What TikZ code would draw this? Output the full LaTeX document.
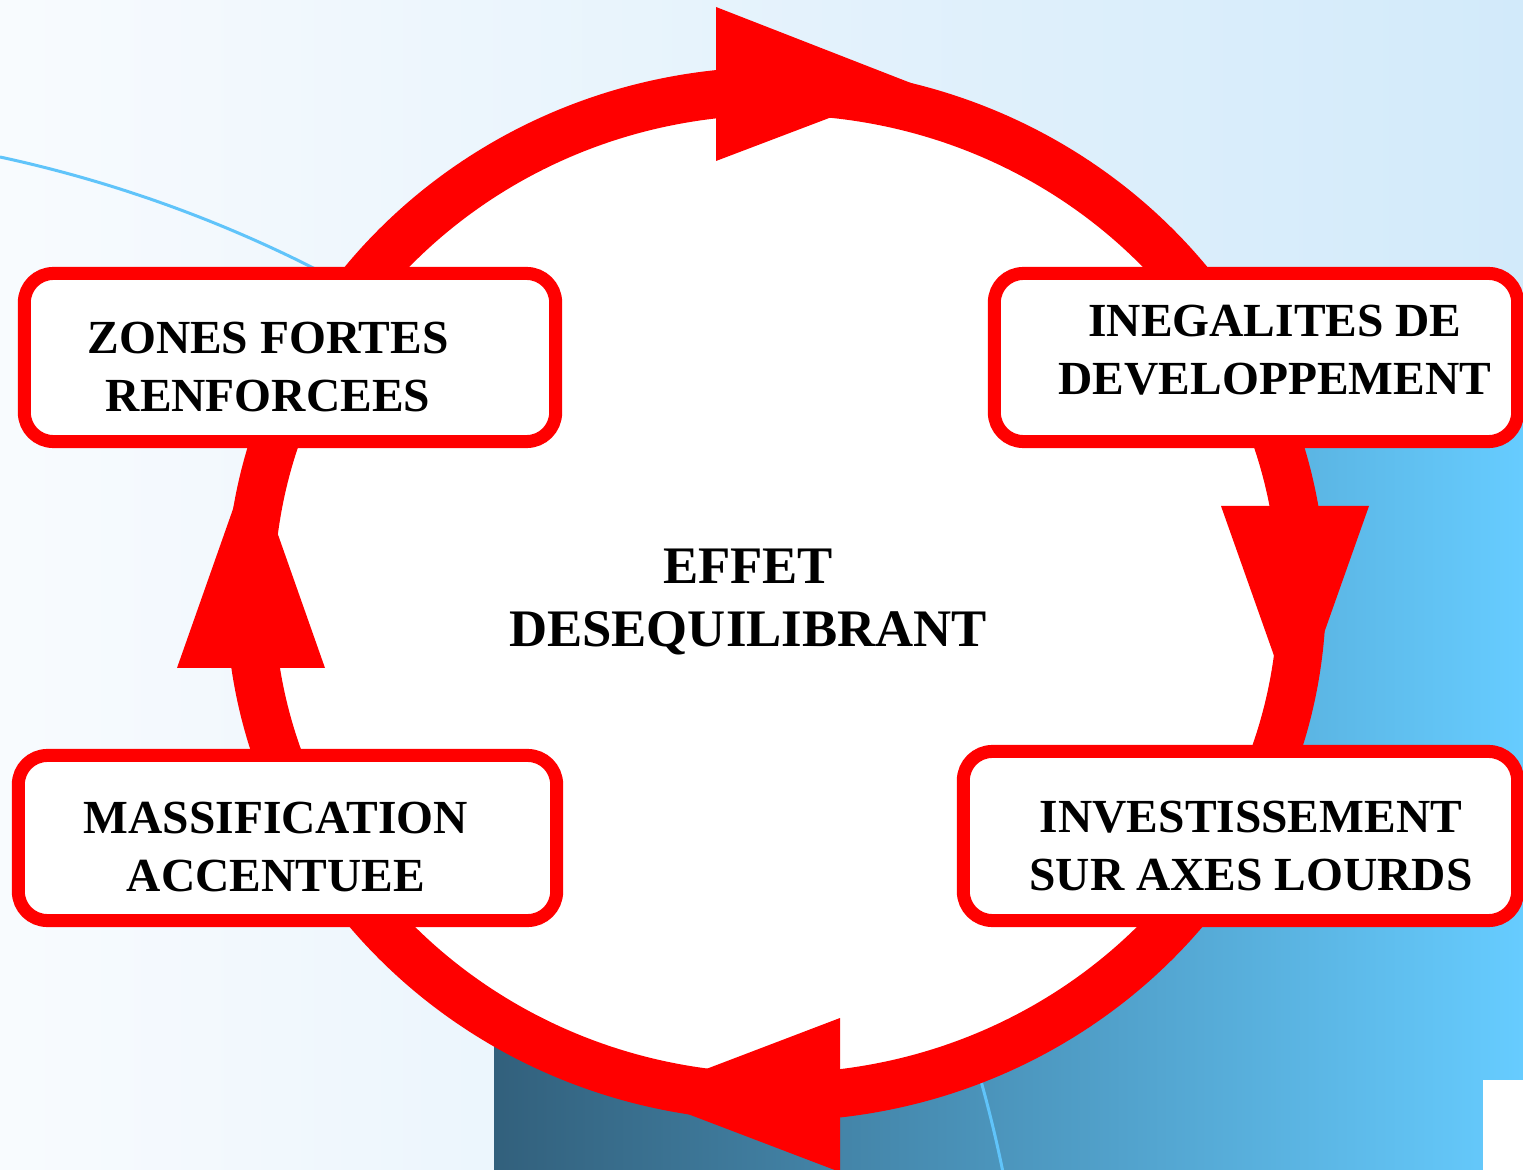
\documentclass[tikz,border=0pt]{standalone}
\usepackage{fontspec}
\setmainfont{Liberation Serif}
\definecolor{bgleft}{RGB}{248,251,254}
\definecolor{bgright}{RGB}{210,234,250}
\definecolor{deepblue}{RGB}{50,96,124}
\definecolor{skyblue}{RGB}{102,204,255}
\definecolor{thinblue}{RGB}{96,196,250}
\definecolor{ringred}{RGB}{255,0,0}
\begin{document}
\begin{tikzpicture}[x=0.01cm,y=-0.01cm,
	ring/.style={draw=ringred,fill=white,line width=0.48cm},
	thinline/.style={draw=thinblue,line width=0.03cm},
	boxframe/.style={draw=ringred,fill=white,line width=0.13cm,rounded corners=0.29cm,inner sep=0pt},
	boxtext/.style={font=\fontsize{13.5}{16.5}\selectfont\bfseries,align=center,inner sep=0pt},
	midtext/.style={font=\fontsize{15}{17.9}\selectfont\bfseries,align=center,inner sep=0pt}]
	%Cadre
	\useasboundingbox (0,0) rectangle (1523,1170) ;
	%Fond
	\shade [left color=bgleft,right color=bgright]		(0,0)		rectangle (1523,1170) ;
	\shade [left color=deepblue,right color=skyblue]	(494,400)	rectangle (1523,1170) ;
	\fill [white]										(1483,1080)	rectangle (1523,1170) ;
	%Courbe
	\draw [thinline]	(0,157) arc [start angle=-77.8,end angle=-11.5,radius=1305] ;
	%Cercle
	\draw [ring]		(776,594) ellipse [x radius=526,y radius=503] ;
	%Fleches
	\fill [ringred]		(716,7)		-- (916,85)		-- (716,161)	-- cycle ;
	\fill [ringred]		(1221,506)	-- (1295,715)	-- (1369,506)	-- cycle ;
	\fill [ringred]		(840,1018)	-- (638,1095)	-- (840,1172)	-- cycle ;
	\fill [ringred]		(177,668)	-- (251,458)	-- (325,668)	-- cycle ;
	%Cadres
	\node [boxframe,minimum width=5.31cm,minimum height=1.68cm] (zones)  at (290,357.5)  {} ;
	\node [boxframe,minimum width=5.23cm,minimum height=1.68cm] (inegal) at (1256,357.5) {} ;
	\node [boxframe,minimum width=5.38cm,minimum height=1.65cm] (massif) at (287.5,838)  {} ;
	\node [boxframe,minimum width=5.54cm,minimum height=1.69cm] (invest) at (1240.5,836) {} ;
	%Textes
	\node [boxtext]	(zonesT)	at (268,367)	{ZONES FORTES\\RENFORCEES} ;
	\node [boxtext]	(inegalT)	at (1275,350.5)	{INEGALITES DE\\DEVELOPPEMENT} ;
	\node [boxtext]	(massifT)	at (276,847)	{MASSIFICATION\\ACCENTUEE} ;
	\node [boxtext]	(investT)	at (1251,846)	{INVESTISSEMENT\\SUR AXES LOURDS} ;
	\node [midtext]	(effet)		at (748,602)	{EFFET\\DESEQUILIBRANT} ;
\end{tikzpicture}
\end{document}
